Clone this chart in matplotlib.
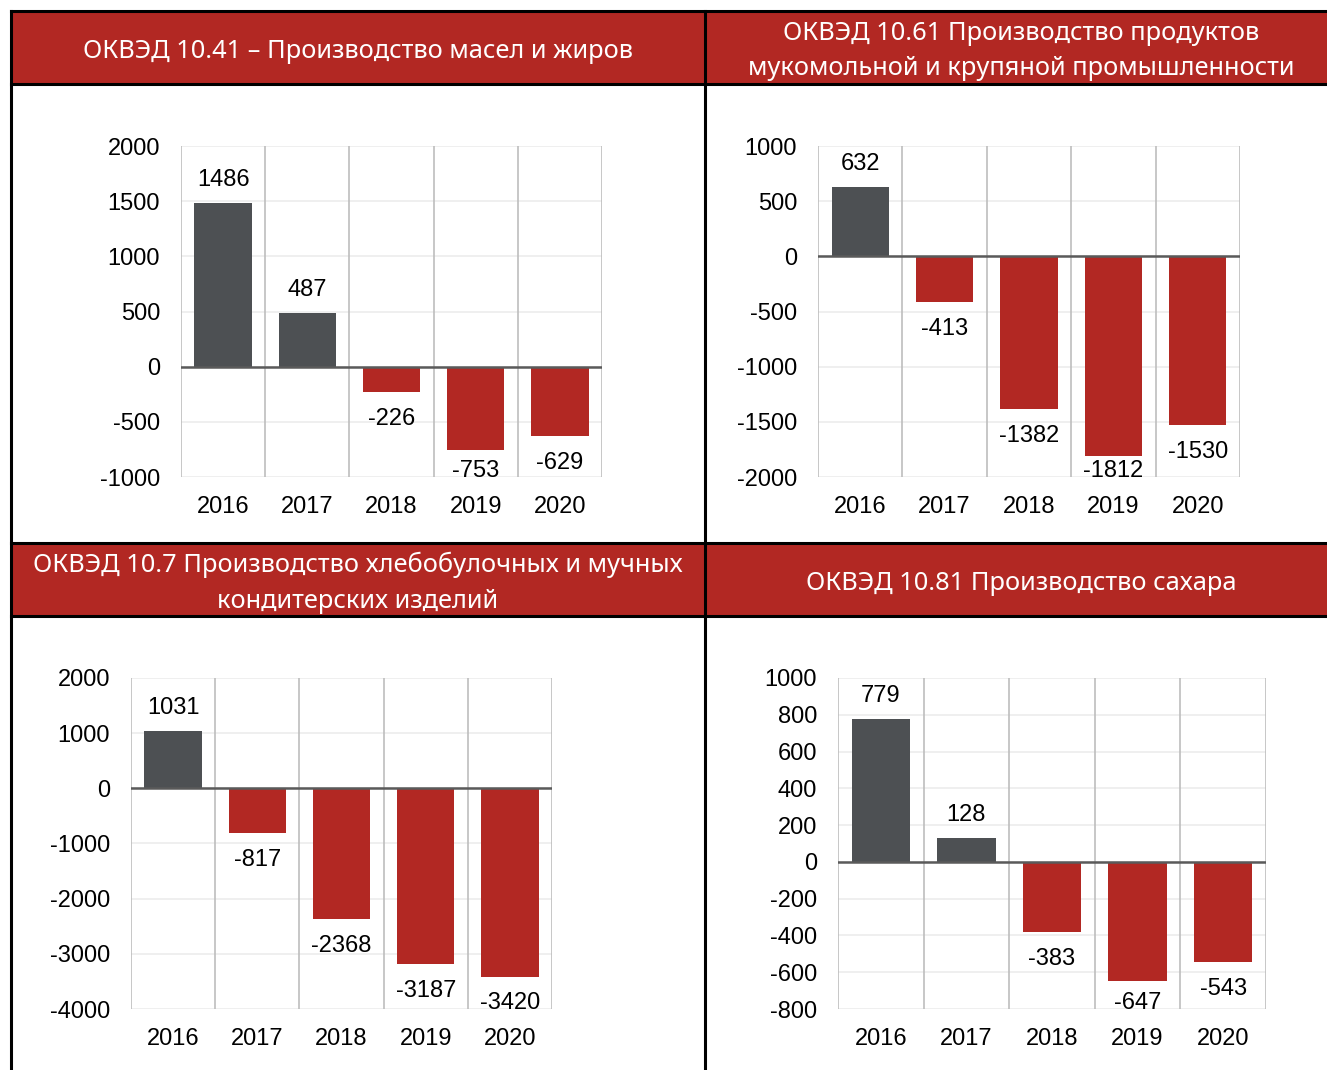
import matplotlib
matplotlib.use("Agg")
import matplotlib.pyplot as plt
from matplotlib.lines import Line2D
from matplotlib.patches import Rectangle

years = ["2016", "2017", "2018", "2019", "2020"]

titles = [
    "ОКВЭД 10.41 – Производство масел и жиров",
    "ОКВЭД 10.61 Производство продуктов\nмукомольной и крупяной промышленности",
    "ОКВЭД 10.7 Производство хлебобулочных и мучных\nкондитерских изделий",
    "ОКВЭД 10.81 Производство сахара",
]

oil_fat = [1486, 487, -226, -753, -629]
flour_grain = [632, -413, -1382, -1812, -1530]
bakery = [1031, -817, -2368, -3187, -3420]
sugar = [779, 128, -383, -647, -543]

ticks_oil = [-1000, -500, 0, 500, 1000, 1500, 2000]
ticks_flour = [-2000, -1500, -1000, -500, 0, 500, 1000]
ticks_bakery = [-4000, -3000, -2000, -1000, 0, 1000, 2000]
ticks_sugar = [-800, -600, -400, -200, 0, 200, 400, 600, 800, 1000]

RED = "#b22823"
GRAY = "#4d5053"
W, H = 1327, 1070

plt.rcParams["font.family"] = ["Liberation Sans", "DejaVu Sans"]
plt.rcParams["axes.unicode_minus"] = False

fig = plt.figure(figsize=(W / 100, H / 100), dpi=100)

# background layer in pixel coordinates for the table frame
bg = fig.add_axes([0, 0, 1, 1])
bg.set_xlim(0, W)
bg.set_ylim(H, 0)
bg.axis("off")

# header bands
for y0 in (11, 543):
    bg.add_patch(Rectangle((11, y0), W - 11, 73, color=RED, zorder=1))

lw = 2.2
for y in (11, 84, 543, 616):
    bg.add_line(Line2D([11, W], [y, y], color="black", lw=lw, zorder=2))
for x in (11, 705):
    bg.add_line(Line2D([x, x], [11, H], color="black", lw=lw, zorder=2))

title_pos = [(358, 51), (1021, 51), (358, 583), (1021, 584)]
for t, (x, y) in zip(titles, title_pos):
    bg.text(x, y, t, color="white", ha="center", va="center",
            fontsize=18.3, family=["Noto Sans", "DejaVu Sans"],
            linespacing=1.55, zorder=3)

# chart areas in pixels: left, right, top, bottom
boxes = [(181, 602, 146, 477), (818, 1240, 146, 477),
         (131, 552, 678, 1009), (838, 1266, 678, 1009)]
series = [oil_fat, flour_grain, bakery, sugar]
ticks = [ticks_oil, ticks_flour, ticks_bakery, ticks_sugar]

for (l, r, t, b), vals, yt in zip(boxes, series, ticks):
    ax = fig.add_axes([l / W, 1 - b / H, (r - l) / W, (b - t) / H])
    ymin, ymax = yt[0], yt[-1]
    ax.set_ylim(ymin, ymax)
    ax.set_xlim(-0.5, len(years) - 0.5)
    x = list(range(len(years)))
    colors = [GRAY if v >= 0 else RED for v in vals]
    ax.bar(x, vals, width=0.68, color=colors, zorder=3)

    ax.set_yticks(yt)
    ax.set_xticks(x)
    ax.set_xticklabels(years)
    ax.tick_params(axis="both", length=0, labelsize=17, colors="black")
    ax.tick_params(axis="y", pad=15)
    ax.tick_params(axis="x", pad=14)
    for s in ax.spines.values():
        s.set_visible(False)

    for v in yt:
        ax.axhline(v, color="#ececec", lw=1.2, zorder=1)
    for xb in [i - 0.5 for i in range(len(years) + 1)]:
        ax.axvline(xb, color="#bdbdbd", lw=1.2, zorder=2)
    ax.axhline(0, color="#5a5a5a", lw=1.8, zorder=4)

    dpp = (ymax - ymin) / (b - t)
    for xi, v in zip(x, vals):
        if v >= 0:
            ax.text(xi, v + 23 * dpp, str(v), ha="center", va="center",
                    fontsize=17, zorder=5)
        else:
            ly = max(v - 27 * dpp, ymin + 6 * dpp)
            ax.text(xi, ly, str(v), ha="center", va="center",
                    fontsize=17, zorder=5)

fig.savefig("out.png", dpi=100)
